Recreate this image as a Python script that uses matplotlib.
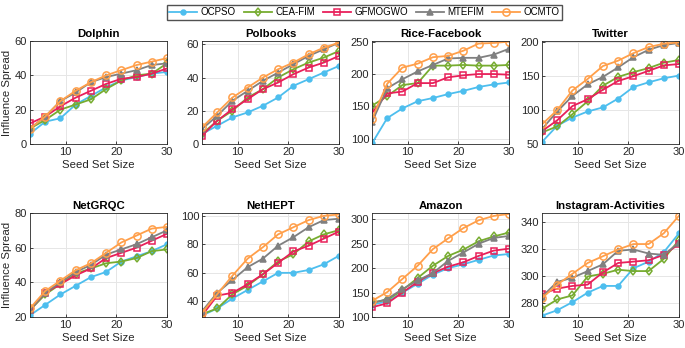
import matplotlib
matplotlib.use("Agg")
import matplotlib.pyplot as plt

plt.rcParams['font.family'] = ['Liberation Sans', 'DejaVu Sans']

seed_sizes = [3, 6, 9, 12, 15, 18, 21, 24, 27, 30]
methods = ['OCPSO', 'CEA-FIM', 'GFMOGWO', 'MTEFIM', 'OCMTO']
datasets = ['Dolphin', 'Polbooks', 'Rice-Facebook', 'Twitter',
            'NetGRQC', 'NetHEPT', 'Amazon', 'Instagram-Activities']

# influence spread per dataset, one list per method (same order as methods)
dolphin = [
    [6, 13, 15, 23, 28, 33, 37, 39, 41, 42],
    [9, 14, 20, 23, 26, 32, 37, 40, 41, 47],
    [12, 16, 22, 27, 31, 35, 38, 39, 41, 44],
    [9, 16, 25, 30, 36, 39, 41, 43, 46, 47],
    [9, 16, 25, 31, 36, 40, 43, 46, 48, 50],
]
polbooks = [
    [6, 11, 16, 19, 23, 28, 35, 39, 43, 47],
    [6, 14, 20, 28, 33, 40, 45, 49, 52, 56],
    [5, 14, 21, 27, 33, 37, 42, 46, 49, 53],
    [9, 17, 26, 32, 38, 43, 48, 53, 57, 61],
    [10, 19, 28, 34, 40, 45, 49, 54, 58, 61],
]
rice_facebook = [
    [93, 132, 147, 158, 163, 169, 174, 180, 184, 187],
    [151, 166, 183, 186, 213, 213, 214, 213, 213, 214],
    [140, 170, 173, 186, 186, 195, 198, 200, 200, 199],
    [126, 178, 192, 204, 214, 224, 225, 225, 230, 239],
    [131, 185, 210, 216, 226, 228, 236, 247, 248, 250],
]
twitter = [
    [53, 77, 89, 98, 104, 117, 134, 141, 147, 151],
    [67, 76, 94, 113, 136, 149, 156, 162, 170, 174],
    [69, 85, 106, 116, 130, 143, 150, 158, 166, 168],
    [72, 98, 121, 138, 149, 163, 178, 189, 196, 199],
    [79, 100, 129, 146, 165, 173, 184, 193, 198, 200],
]
netgrqc = [
    [21, 27, 33, 38, 43, 46, 52, 55, 58, 62],
    [24, 33, 39, 45, 48, 51, 52, 54, 58, 59],
    [24, 34, 39, 44, 48, 54, 57, 60, 64, 68],
    [24, 34, 40, 46, 50, 56, 59, 62, 66, 70],
    [25, 35, 41, 47, 51, 57, 63, 67, 71, 72],
]
nethept = [
    [30, 35, 42, 48, 54, 60, 60, 62, 66, 72],
    [31, 35, 45, 51, 59, 68, 73, 82, 87, 90],
    [30, 44, 46, 52, 59, 67, 75, 79, 84, 89],
    [33, 46, 55, 64, 70, 79, 85, 92, 97, 98],
    [32, 45, 58, 70, 78, 87, 92, 97, 100, 101],
]
amazon = [
    [125, 132, 150, 168, 187, 200, 208, 217, 226, 229],
    [130, 135, 155, 180, 205, 225, 238, 255, 265, 273],
    [120, 128, 150, 172, 190, 203, 212, 225, 236, 240],
    [128, 137, 157, 175, 190, 215, 232, 250, 262, 266],
    [133, 151, 178, 205, 239, 261, 282, 298, 307, 311],
]
instagram = [
    [271, 275, 281, 288, 293, 293, 306, 311, 318, 332],
    [276, 283, 286, 300, 302, 305, 304, 304, 313, 327],
    [287, 291, 293, 294, 303, 310, 311, 312, 316, 324],
    [285, 296, 299, 304, 309, 319, 320, 317, 316, 325],
    [284, 294, 302, 310, 315, 320, 324, 324, 332, 345],
]
all_data = [dolphin, polbooks, rice_facebook, twitter,
            netgrqc, nethept, amazon, instagram]

ylims = [(0, 60), (0, 62), (92, 251), (50, 202),
         (20, 80), (29, 102), (100, 313), (270, 347)]
yticks = [[0, 20, 40, 60], [0, 20, 40, 60], [100, 150, 200, 250], [50, 100, 150, 200],
          [20, 40, 60, 80], [40, 60, 80, 100], [100, 150, 200, 250, 300], [280, 300, 320, 340]]

colors = ['#4DBEEE', '#77AC30', '#E8205A', '#808080', '#FF9F4A']
markers = ['o', 'd', 's', '^', 'o']
faces = ['#4DBEEE', 'none', 'none', '#808080', 'none']
msizes = [3.5, 4.4, 4.2, 4.8, 5.2]

fig = plt.figure(figsize=(6.85, 3.48), dpi=100)
lefts = [30, 202, 372, 542]
width = 137
rows = [(41, 144), (213, 317)]

handles = []
for k, name in enumerate(datasets):
    r, c = divmod(k, 4)
    top, bot = rows[r]
    ax = fig.add_axes([lefts[c] / 685, 1 - bot / 348, width / 685, (bot - top) / 348])
    for m in range(5):
        h, = ax.plot(seed_sizes, all_data[k][m], color=colors[m], marker=markers[m],
                     markerfacecolor=faces[m], markeredgecolor=colors[m],
                     markersize=msizes[m], markeredgewidth=1.1, linewidth=1.3,
                     label=methods[m])
        if k == 0:
            handles.append(h)
    ax.set_xlim(3, 30)
    ax.set_xticks([10, 20, 30])
    ax.set_ylim(*ylims[k])
    ax.set_yticks(yticks[k])
    ax.grid(True, color='#e6e6e6', linewidth=0.7)
    ax.set_axisbelow(True)
    ax.tick_params(labelsize=8, direction='in', length=2.5, width=0.6,
                   colors='#262626', pad=2)
    for s in ax.spines.values():
        s.set_linewidth(0.6)
        s.set_color('#262626')
    ax.set_title(name, fontsize=8.2, fontweight='bold', pad=3)
    ax.set_xlabel('Seed Set Size', fontsize=8.2, labelpad=2, color='#262626')
    if c == 0:
        ax.set_ylabel('Influence Spread', fontsize=8.2, labelpad=2, color='#262626')

fig.legend(handles=handles, labels=methods, loc='upper center', ncol=5,
           bbox_to_anchor=(0.532, 1.0), fontsize=7, frameon=True, fancybox=False,
           edgecolor='#262626', handlelength=2.9, columnspacing=0.8, handletextpad=0.35,
           borderpad=0.25)

fig.savefig('out.png', dpi=100)
